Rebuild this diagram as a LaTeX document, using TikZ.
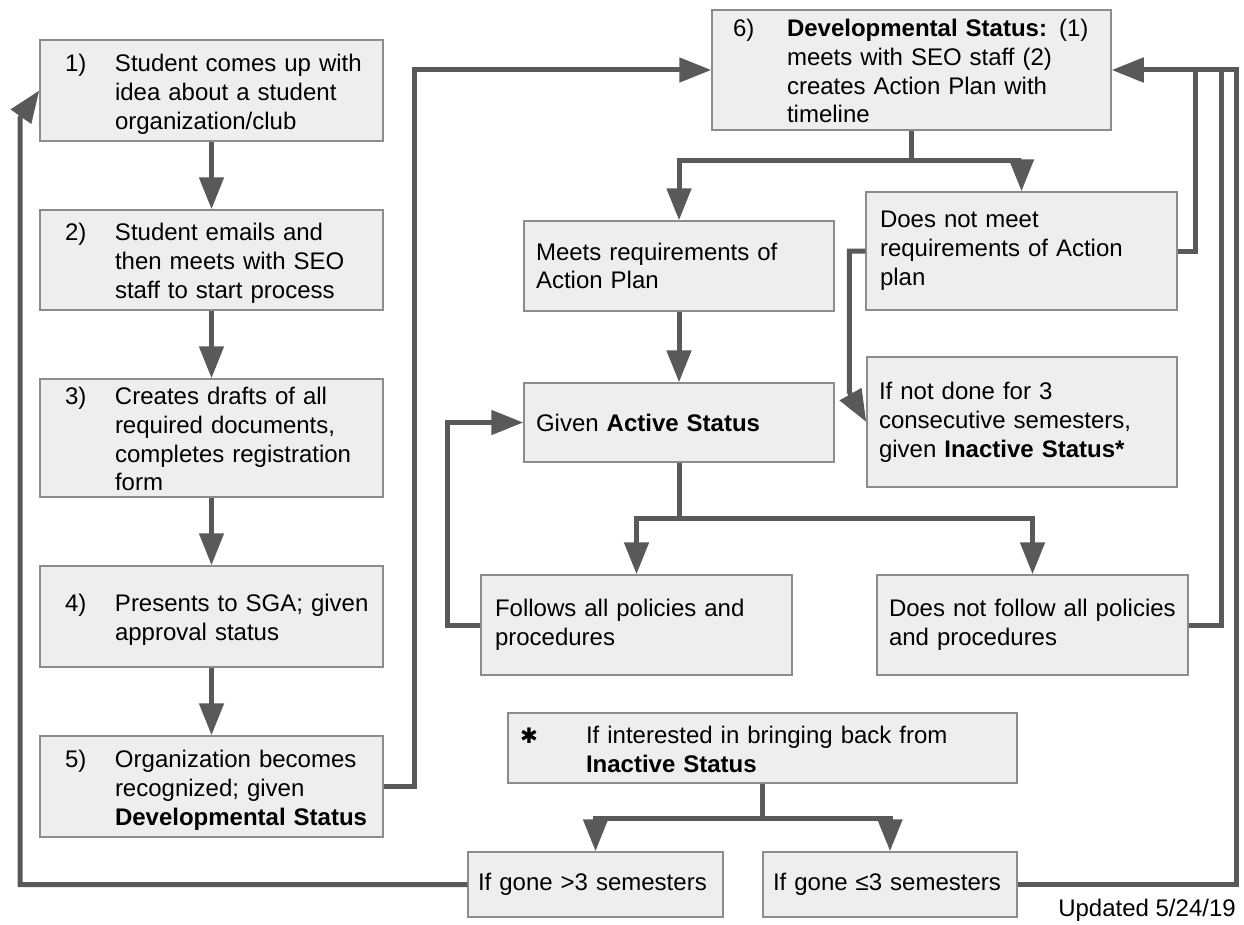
\documentclass[tikz,border=0pt]{standalone}
\usepackage{fontspec}
\setmainfont{Liberation Sans}
\newfontfamily\symfont{DejaVu Sans}
\usepackage{tikz}
\usetikzlibrary{arrows.meta}

\definecolor{boxfill}{HTML}{EEEEEE}
\definecolor{boxline}{HTML}{8C8C8C}
\definecolor{linkgray}{HTML}{595959}

\newcommand{\numtxt}[3][37.5pt]{\noindent\raisebox{-3pt}[\height][\depth]{\rlap{\makebox[#1][l]{#2}\begin{tabular}[t]{@{}l@{}}#3\end{tabular}}}}

\begin{document}
\begin{tikzpicture}[x=0.75pt,y=-0.75pt,
    box/.style={draw=boxline,fill=boxfill,line width=1.1pt,inner sep=0pt,align=left,
        font=\fontsize{18pt}{21.6pt}\selectfont},
    sz/.style n args={3}{minimum width=#1,minimum height=#2,text width=#3},
    link/.style={draw=linkgray,line width=3.75pt},
    conn/.style={link,-{Triangle[length=24pt,width=18pt]}}]
    \useasboundingbox (0,0) rectangle (1244,924);

    \node[box,sz={257.25pt}{75.75pt}{219.75pt}] (b1) at (211.5,90.5)
        {\numtxt{1)}{Student comes up with\\idea about a student\\organization/club}};
    \node[box,sz={257.25pt}{75pt}{219.75pt}] (b2) at (211.5,260)
        {\numtxt{2)}{Student emails and\\then meets with SEO\\staff to start process}};
    \node[box,sz={257.25pt}{88.5pt}{219.75pt}] (b3) at (211.5,438)
        {\numtxt{3)}{Creates drafts of all\\required documents,\\completes registration\\form}};
    \node[box,sz={257.25pt}{75.75pt}{219.75pt}] (b4) at (211.5,616.5)
        {\numtxt{4)}{Presents to SGA; given\\approval status}};
    \node[box,sz={257.25pt}{75.75pt}{219.75pt}] (b5) at (211.5,786.5)
        {\numtxt{5)}{Organization becomes\\recognized; given\\\textbf{Developmental Status}}};
    \node[box,sz={299.25pt}{90pt}{267.75pt}] (b6) at (911.5,70)
        {\numtxt[40.5pt]{6)}{\textbf{Developmental Status:} (1)\\meets with SEO staff (2)\\creates Action Plan with\\timeline}};

    \node[box,sz={232.5pt}{67.5pt}{214.5pt}] (meets) at (679,266)
        {Meets requirements of\\Action Plan};
    \node[box,sz={232.5pt}{59.25pt}{214.5pt}] (active) at (679,422.5)
        {Given \textbf{Active Status}};
    \node[box,sz={233.25pt}{88.5pt}{212.25pt}] (dnm) at (1021.5,251)
        {Does not meet\\requirements of Action\\plan};
    \node[box,sz={232.5pt}{97.5pt}{214.5pt}] (ifnot) at (1022,422)
        {If not done for 3\\consecutive semesters,\\given \textbf{Inactive Status*}};
    \node[box,sz={233.25pt}{75pt}{212.25pt}] (follows) at (636.5,625)
        {Follows all policies and\\procedures};
    \node[box,sz={233.25pt}{75pt}{215.25pt}] (dnf) at (1032.5,625)
        {Does not follow all policies\\and procedures};

    \node[box,sz={381.75pt}{52.5pt}{363.75pt}] (ast) at (762.5,748)
        {\numtxt[49.5pt]{{\symfont\fontsize{16pt}{18pt}\selectfont ✱}}{If interested in bringing back from\\\textbf{Inactive Status}}};
    \node[box,sz={191.25pt}{48.75pt}{176.25pt}] (gt3) at (595.5,884.5)
        {If gone >3 semesters};
    \node[box,sz={190.5pt}{48.75pt}{175.5pt}] (le3) at (890,884.5)
        {If gone ≤3 semesters};

    \node[anchor=east,inner sep=0pt,font=\fontsize{18pt}{21.6pt}\selectfont] (upd) at (1236,910)
        {Updated 5/24/19};

    \draw[conn] (b1) -- (b2);
    \draw[conn] (b2) -- (b3);
    \draw[conn] (b3) -- (b4);
    \draw[conn] (b4) -- (b5);
    \draw[conn] (b5.east) -- ++(31,0) |- (b6.west);

    \draw[link] (b6.south) -- ++(0,30) coordinate (s6);
    \draw[conn] (s6) -| (meets.north);
    \draw[conn] (s6) -| (dnm.north);
    \draw[conn] (meets) -- (active);
    \draw[conn] (dnm.west) -- ++(-16,0) -- ++(0,141) -- (ifnot.west);

    \draw[link] (active.south) -- ++(0,56) coordinate (sa);
    \draw[conn] (sa) -| (follows.north);
    \draw[conn] (sa) -| (dnf.north);
    \draw[conn] (follows.west) -- ++(-33,0) |- (active.west);

    \draw[link] (dnm.east) -| (1195,70);
    \draw[link] (dnf.east) -| (1221,70);
    \draw[conn] (le3.east) -| (1236,70) -- (b6.east);

    \draw[link] (ast.south) -- ++(0,35) coordinate (sb);
    \draw[conn] (sb) -| (gt3.north);
    \draw[conn] (sb) -| (le3.north);
    \draw[conn] (gt3.west) -| (20,118) -- (b1.west);
\end{tikzpicture}
\end{document}
